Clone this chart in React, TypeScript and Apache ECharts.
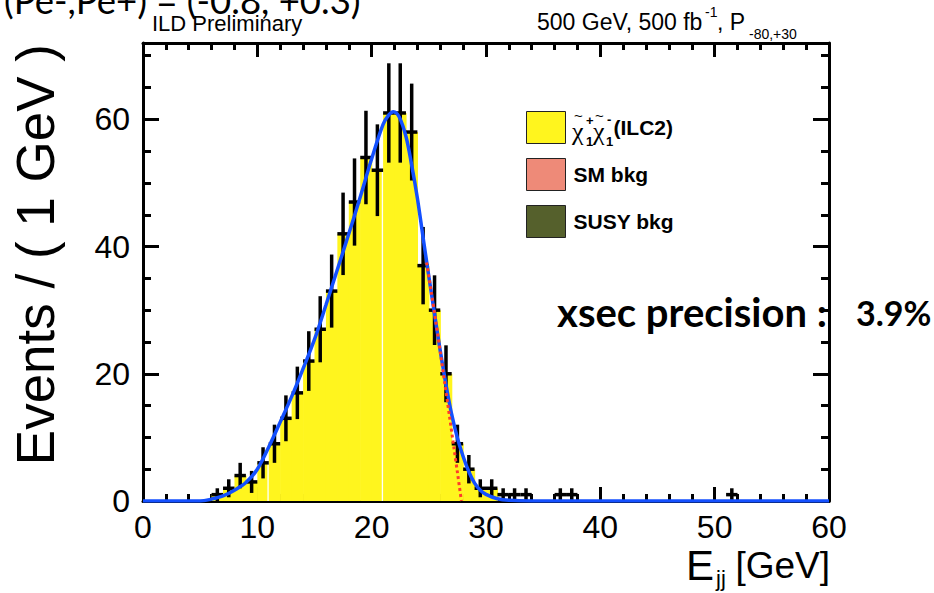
import React, { useEffect, useRef } from "react";
import * as echarts from "echarts";

// ---- binning of the di-jet energy histogram (GeV) ----
const E_MIN = 0;
const E_MAX = 60;
const BIN_WIDTH = 1;
const EVENTS_MAX = 72;

// Events per bin; entry i covers [i, i+1) GeV
const observedEvents = [
  0, 0, 0, 0, 0, 0, 1, 2, 4, 3,
  6, 9, 13, 17, 22, 27, 33, 42, 47, 54,
  52, 61, 61, 58, 37, 30, 20, 9, 5, 2,
  2, 1, 1, 1, 0, 0, 1, 1, 0, 0,
  0, 0, 0, 0, 0, 0, 0, 0, 0, 0,
  0, 1, 0, 0, 0, 0, 0, 0, 0, 0,
];

// Stacked MC expectation per bin
const signalEvents = [
  0, 0, 0, 0, 0, 0, 1, 2, 4, 3,
  6, 9, 13, 17, 22, 27, 33, 42, 47, 54,
  52, 61, 61, 58, 37, 30, 20, 9, 5, 2,
  2, 0, 0, 0, 0, 0, 0, 0, 0, 0,
  0, 0, 0, 0, 0, 0, 0, 0, 0, 0,
  0, 0, 0, 0, 0, 0, 0, 0, 0, 0,
];
const smBkgEvents = [
  0, 0, 0, 0, 0, 0, 0, 0, 0, 0,
  0, 0, 0, 0, 0, 0, 0, 0, 0, 0,
  0, 0, 0, 0, 0, 0, 0, 0, 0, 0,
  0, 0, 0, 0, 0, 0, 0, 0, 0, 0,
  0, 0, 0, 0, 0, 0, 0, 0, 0, 0,
  0, 0, 0, 0, 0, 0, 0, 0, 0, 0,
];
const susyBkgEvents = [
  0, 0, 0, 0, 0, 0, 0, 0, 0, 0,
  0, 0, 0, 0, 0, 0, 0, 0, 0, 0,
  0, 0, 0, 0, 0, 0, 0, 0, 0, 0,
  0, 0, 0, 0, 0, 0, 0, 0, 0, 0,
  0, 0, 0, 0, 0, 0, 0, 0, 0, 0,
  0, 0, 0, 0, 0, 0, 0, 0, 0, 0,
];

// Fitted shape (E in GeV, events per GeV)
const fitE = [
  0, 5, 6, 7, 8, 9, 10, 11, 12, 13, 14, 15, 16, 17, 18, 19, 20, 21, 21.5, 21.9,
  22.4, 23, 23.5, 24, 24.5, 25, 25.5, 26, 26.5, 27, 27.5, 28, 28.5, 29, 29.5, 30,
  31, 32, 34, 60,
];
const fitEvents = [
  0, 0, 0.3, 0.8, 1.7, 2.9, 5.0, 8.5, 12.4, 16.4, 20.8, 25.4, 30.8, 36.4, 42.0, 47.8, 53.8, 59.2, 60.7, 61.2,
  60.4, 57.3, 52.8, 47.6, 41.4, 35.3, 29.4, 23.6, 18.3, 13.6, 9.9, 7.0, 4.6, 2.8, 1.7, 1.05,
  0.35, 0.1, 0, 0,
];

// Dotted component on the falling edge
const edgeE = [24.8, 25.2, 25.6, 26.0, 26.4, 26.8, 27.2, 27.5, 27.85];
const edgeEvents = [37.5, 33.0, 28.3, 23.4, 18.4, 13.4, 8.3, 4.5, 0];

// ---- labels ----
const SIGNAL_NAME = "chargino pair (ILC2)";
const SM_NAME = "SM bkg";
const SUSY_NAME = "SUSY bkg";
const Y_TITLE = "Events / ( 1 GeV )";
const PRECISION_LABEL = "xsec precision :";
const PRECISION_VALUE = "3.9%";

const SANS = '"Liberation Sans", Arial, Helvetica, sans-serif';
const SERIF = '"Liberation Serif", "DejaVu Serif", serif';
const ROUND = 'Lato, "Open Sans", sans-serif';

const YELLOW = "#fff51e";
const SALMON = "#ee8a78";
const OLIVE = "#55602c";

// bin edges where the filled histogram shows a hairline seam
const SEAM_EDGES = [11, 21];

function binLow(i: number) {
  return E_MIN + i * BIN_WIDTH;
}

function stackRows(values: number[], below: number[]) {
  return values.map((v, i) => [binLow(i), binLow(i) + BIN_WIDTH, below[i] + v, below[i]]);
}

function histItem(color: string, seams: boolean) {
  return (params: any, api: any) => {
    const lo = api.value(0);
    const hi = api.value(1);
    const top = api.value(2);
    const base = api.value(3);
    if (!(top > base)) return;
    const a = api.coord([lo, top]);
    const b = api.coord([hi, base]);
    const children: any[] = [
      {
        type: "rect",
        shape: { x: a[0], y: a[1], width: b[0] - a[0] + 0.6, height: b[1] - a[1] },
        style: { fill: color },
      },
    ];
    if (seams && SEAM_EDGES.indexOf(lo) >= 0) {
      const prev = signalEvents[params.dataIndex - 1] ?? 0;
      const lim = api.coord([lo, Math.min(prev, top)]);
      children.push({
        type: "line",
        shape: { x1: a[0] - 0.7, y1: b[1], x2: a[0] - 0.7, y2: lim[1] },
        style: { stroke: "#ffffff", lineWidth: 1.3 },
      });
    }
    return { type: "group", children };
  };
}

function errorBarItem(params: any, api: any) {
  const x = api.value(0);
  const n = api.value(1);
  const err = api.value(2);
  if (!(n > 0)) return;
  const half = BIN_WIDTH / 2;
  const c = api.coord([x, n]);
  const l = api.coord([x - half, n]);
  const r = api.coord([x + half, n]);
  const up = api.coord([x, n + err]);
  const dn = api.coord([x, n - err]);
  const style = { stroke: "#000", lineWidth: 3.5 };
  return {
    type: "group",
    children: [
      { type: "line", shape: { x1: c[0], y1: up[1], x2: c[0], y2: dn[1] }, style },
      { type: "line", shape: { x1: l[0], y1: c[1], x2: r[0], y2: c[1] }, style },
    ],
  };
}

function buildOption() {
  const zeros = susyBkgEvents.map(() => 0);
  const smBase = susyBkgEvents.slice();
  const sigBase = susyBkgEvents.map((v, i) => v + smBkgEvents[i]);

  const pointRows = observedEvents.map((n, i) => [binLow(i) + BIN_WIDTH / 2, n, Math.sqrt(n)]);

  const tickStyle = { color: "#000", width: 3 };
  const axisLine = { show: true, onZero: false, lineStyle: { color: "#000", width: 3 } };
  const labelFont = { fontFamily: SANS, fontSize: 32, color: "#000" };

  const xAxisBase = {
    type: "value",
    min: E_MIN,
    max: E_MAX,
    interval: 10,
    axisLine,
    axisTick: { show: true, inside: true, length: 14, lineStyle: tickStyle },
    minorTick: { show: true, splitNumber: 5, length: 7, lineStyle: tickStyle },
    splitLine: { show: false },
  };
  const yMajor = {
    type: "value",
    min: 0,
    max: EVENTS_MAX,
    interval: 20,
    axisLine,
    axisTick: { show: true, inside: true, length: 16, lineStyle: tickStyle },
    splitLine: { show: false },
  };
  const yMinor = {
    type: "value",
    min: 0,
    max: EVENTS_MAX,
    interval: 5,
    axisLine: { show: false, onZero: false },
    axisTick: { show: true, inside: true, length: 8, lineStyle: tickStyle },
    axisLabel: { show: false },
    splitLine: { show: false },
  };

  const txt = (x: number, y: number, text: string, font: string, extra: any = {}) => ({
    type: "text",
    x,
    y,
    z: 20,
    style: { text, font, fill: "#000", verticalAlign: "middle", ...extra },
  });

  return {
    animation: false,
    backgroundColor: "#ffffff",
    grid: { left: 143, right: 105, top: 43, bottom: 92, containLabel: false },
    xAxis: [
      { ...xAxisBase, position: "bottom", axisLabel: { ...labelFont, margin: 10 } },
      { ...xAxisBase, position: "top", axisLabel: { show: false } },
    ],
    yAxis: [
      {
        ...yMajor,
        position: "left",
        axisLabel: {
          ...labelFont,
          margin: 13,
          formatter: (v: number) => (v % 20 === 0 ? String(v) : ""),
        },
      },
      { ...yMinor, position: "left" },
      { ...yMajor, position: "right", axisLabel: { show: false } },
      { ...yMinor, position: "right" },
    ],
    legend: {
      orient: "vertical",
      left: 526,
      top: 111,
      padding: 0,
      itemWidth: 39,
      itemHeight: 32,
      itemGap: 14,
      icon: "rect",
      selectedMode: false,
      itemStyle: { borderColor: "#222", borderWidth: 1 },
      data: [SIGNAL_NAME, SM_NAME, SUSY_NAME],
      formatter: (name: string) => (name === SIGNAL_NAME ? "{pad| }{b|(ILC2)}" : name),
      textStyle: {
        fontFamily: SANS,
        fontSize: 21,
        fontWeight: "bold",
        color: "#000",
        padding: [0, 0, 0, 3],
        rich: {
          pad: { width: 40 },
          b: { fontFamily: SANS, fontSize: 21, fontWeight: "bold", color: "#000" },
        },
      },
    },
    series: [
      {
        name: SUSY_NAME,
        type: "custom",
        renderItem: histItem(OLIVE, false),
        itemStyle: { color: OLIVE },
        encode: { x: [0, 1], y: [2, 3] },
        data: stackRows(susyBkgEvents, zeros),
        clip: true,
        z: 1,
      },
      {
        name: SM_NAME,
        type: "custom",
        renderItem: histItem(SALMON, false),
        itemStyle: { color: SALMON },
        encode: { x: [0, 1], y: [2, 3] },
        data: stackRows(smBkgEvents, smBase),
        clip: true,
        z: 1,
      },
      {
        name: SIGNAL_NAME,
        type: "custom",
        renderItem: histItem(YELLOW, true),
        itemStyle: { color: YELLOW },
        encode: { x: [0, 1], y: [2, 3] },
        data: stackRows(signalEvents, sigBase),
        clip: true,
        z: 1,
      },
      {
        name: "data",
        type: "custom",
        renderItem: errorBarItem,
        encode: { x: 0, y: 1 },
        data: pointRows,
        clip: true,
        z: 3,
      },
      {
        name: "fit",
        type: "line",
        data: fitE.map((e, i) => [e, fitEvents[i]]),
        smooth: 0.35,
        showSymbol: false,
        lineStyle: { color: "#1450ff", width: 3.5 },
        z: 4,
      },
      {
        name: "edge",
        type: "line",
        data: edgeE.map((e, i) => [e, edgeEvents[i]]),
        smooth: 0.3,
        showSymbol: false,
        lineStyle: { color: "#ff3b2a", width: 3, type: [3, 3] },
        z: 5,
      },
    ],
    graphic: [
      // header
      txt(152, 23, "ILD Preliminary", `22px ${SANS}`),
      txt(4, 0, "(Pe-,Pe+) = (-0.8, +0.3)", `36.5px ${ROUND}`),
      txt(537, 22, "500 GeV, 500 fb", `23px ${SANS}`),
      txt(705, 12, "-1", `14px ${SANS}`),
      txt(717, 22, ", P", `23px ${SANS}`),
      txt(749, 34, "-80,+30", `14px ${SANS}`),
      // signal legend label: chargino pair symbol
      txt(572, 131, "\u03c7", `26px ${SERIF}`),
      txt(574, 115, "~", `15px ${SANS}`),
      txt(586, 120, "+", `bold 13px ${SANS}`),
      txt(586, 141, "1", `bold 13px ${SANS}`),
      txt(593, 131, "\u03c7", `26px ${SERIF}`),
      txt(595, 115, "~", `15px ${SANS}`),
      txt(607, 119, "-", `bold 13px ${SANS}`),
      txt(606, 141, "1", `bold 13px ${SANS}`),
      // axis titles
      {
        type: "text",
        x: 35,
        y: 44,
        rotation: Math.PI / 2,
        z: 20,
        style: { text: Y_TITLE, font: `53px ${SANS}`, fill: "#000", align: "right", verticalAlign: "middle" },
      },
      txt(686, 565, "E", `42px ${SANS}`),
      txt(716, 578, "jj", `22px ${SANS}`),
      txt(830, 565, "[GeV]", `37px ${SANS}`, { align: "right" }),
      // annotation
      txt(557, 312, PRECISION_LABEL, `bold 40px ${ROUND}`),
      txt(856, 312, PRECISION_VALUE, `bold 34px ${ROUND}`),
    ],
  };
}

export default function App() {
  const ref = useRef<HTMLDivElement>(null);
  useEffect(() => {
    if (!ref.current) return;
    const chart = echarts.init(ref.current, undefined, { renderer: "svg" });
    chart.setOption(buildOption() as any);
    return () => chart.dispose();
  }, []);
  return (
    <div
      ref={ref}
      style={{ position: "absolute", left: 0, top: 0, width: 934, height: 593, background: "#fff" }}
    />
  );
}
